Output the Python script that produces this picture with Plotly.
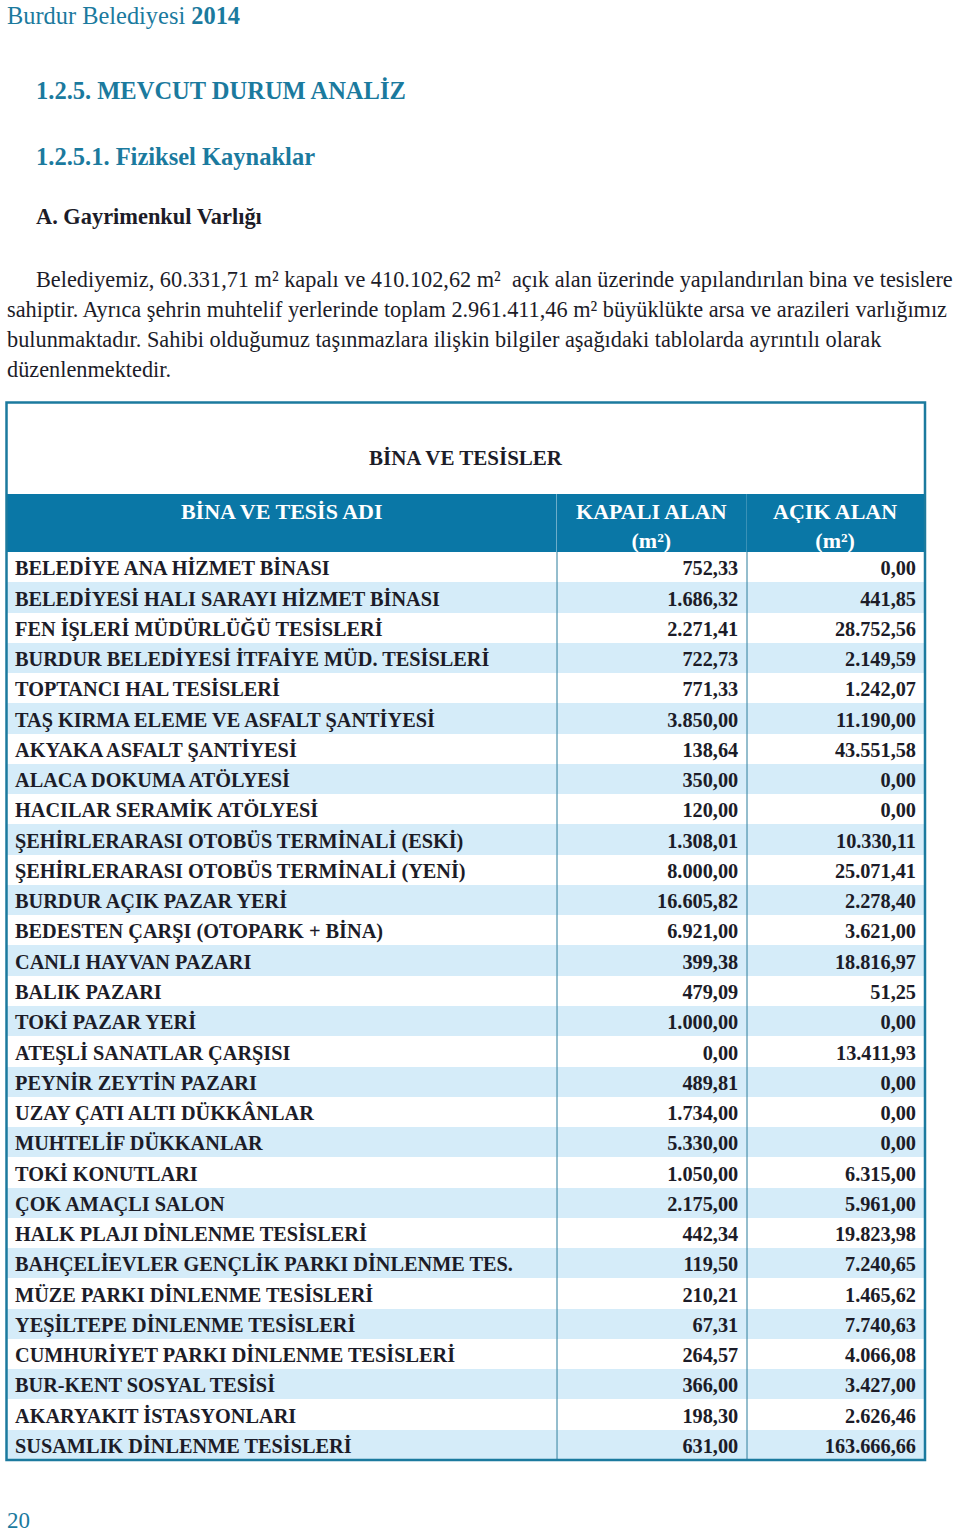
import plotly.graph_objects as go

W, H = 960, 1536

facility_names = [
    "BELEDİYE ANA HİZMET BİNASI",
    "BELEDİYESİ HALI SARAYI HİZMET BİNASI",
    "FEN İŞLERİ MÜDÜRLÜĞÜ TESİSLERİ",
    "BURDUR BELEDİYESİ İTFAİYE MÜD. TESİSLERİ",
    "TOPTANCI HAL TESİSLERİ",
    "TAŞ KIRMA ELEME VE ASFALT ŞANTİYESİ",
    "AKYAKA ASFALT ŞANTİYESİ",
    "ALACA DOKUMA ATÖLYESİ",
    "HACILAR SERAMİK ATÖLYESİ",
    "ŞEHİRLERARASI OTOBÜS TERMİNALİ (ESKİ)",
    "ŞEHİRLERARASI OTOBÜS TERMİNALİ (YENİ)",
    "BURDUR AÇIK PAZAR YERİ",
    "BEDESTEN ÇARŞI (OTOPARK + BİNA)",
    "CANLI HAYVAN PAZARI",
    "BALIK PAZARI",
    "TOKİ PAZAR YERİ",
    "ATEŞLİ SANATLAR ÇARŞISI",
    "PEYNİR ZEYTİN PAZARI",
    "UZAY ÇATI ALTI DÜKKÂNLAR",
    "MUHTELİF DÜKKANLAR",
    "TOKİ KONUTLARI",
    "ÇOK AMAÇLI SALON",
    "HALK PLAJI DİNLENME TESİSLERİ",
    "BAHÇELİEVLER GENÇLİK PARKI DİNLENME TES.",
    "MÜZE PARKI DİNLENME TESİSLERİ",
    "YEŞİLTEPE DİNLENME TESİSLERİ",
    "CUMHURİYET PARKI DİNLENME TESİSLERİ",
    "BUR-KENT SOSYAL TESİSİ",
    "AKARYAKIT İSTASYONLARI",
    "SUSAMLIK DİNLENME TESİSLERİ",
]

closed_area = [
    752.33, 1686.32, 2271.41, 722.73, 771.33, 3850.00, 138.64, 350.00, 120.00,
    1308.01, 8000.00, 16605.82, 6921.00, 399.38, 479.09, 1000.00, 0.00, 489.81,
    1734.00, 5330.00, 1050.00, 2175.00, 442.34, 119.50, 210.21, 67.31, 264.57,
    366.00, 198.30, 631.00,
]

open_area = [
    0.00, 441.85, 28752.56, 2149.59, 1242.07, 11190.00, 43551.58, 0.00, 0.00,
    10330.11, 25071.41, 2278.40, 3621.00, 18816.97, 51.25, 0.00, 13411.93, 0.00,
    0.00, 0.00, 6315.00, 5961.00, 19823.98, 7240.65, 1465.62, 7740.63, 4066.08,
    3427.00, 2626.46, 163666.66,
]

header_labels = [["BİNA VE TESİS ADI", ""], ["KAPALI ALAN", "(m²)"], ["AÇIK ALAN", "(m²)"]]
table_title = "BİNA VE TESİSLER"


def tr_fmt(v):
    s = f"{v:,.2f}"
    return s.replace(",", "X").replace(".", ",").replace("X", ".")


SERIF = "Liberation Serif"
TEAL = "#1b7a9e"
HEAD_BLUE = "#0a77a6"
LIGHT = "#d5ecf9"
TXT = "#1c1c28"


def px(x):
    return x / W


def py(y):
    return 1 - y / H


n = len(facility_names)
row_fill = ["white" if i % 2 == 0 else LIGHT for i in range(n)]

tbl_left, tbl_right = 7, 925
head_top, tbl_bottom = 494, 1460
head_h = 58
cell_h = (tbl_bottom - head_top - head_h) / n

fig = go.Figure()
fig.add_trace(go.Table(
    domain=dict(x=[px(tbl_left), px(tbl_right)], y=[py(tbl_bottom), py(head_top)]),
    columnwidth=[550, 190, 178],
    header=dict(
        values=header_labels,
        fill_color=HEAD_BLUE,
        line=dict(width=0, color=HEAD_BLUE),
        align="center",
        height=head_h / 2,
        font=dict(family=SERIF, size=22, color="white", weight="bold"),
    ),
    cells=dict(
        values=[facility_names, [tr_fmt(v) for v in closed_area], [tr_fmt(v) for v in open_area]],
        fill_color=[row_fill, row_fill, row_fill],
        line=dict(width=0, color="white"),
        align=["left", "right", "right"],
        height=cell_h,
        font=dict(family=SERIF, size=20.3, color=TXT, weight="bold"),
    ),
))

# column dividers in body
for xd in (557, 747):
    fig.add_shape(type="line", xref="paper", yref="paper",
                  x0=px(xd), x1=px(xd), y0=py(head_top + head_h), y1=py(tbl_bottom),
                  line=dict(color="#2a7d9c", width=1))
# outer frame
fig.add_shape(type="rect", xref="paper", yref="paper",
              x0=px(6.5), x1=px(925), y0=py(1460), y1=py(402.5),
              line=dict(color=TEAL, width=2.5))

ann = []


def text(x, y, s, size, color=TXT, bold=False, xanchor="left"):
    ann.append(dict(
        x=px(x), y=py(y), xref="paper", yref="paper", text=s, showarrow=False,
        xanchor=xanchor, yanchor="middle",
        font=dict(family=SERIF, size=size, color=color, weight="bold" if bold else "normal"),
    ))


text(5, 15, "Burdur Belediyesi <b>2014</b>", 24.4, color=TEAL)
text(34, 90, "1.2.5. MEVCUT DURUM ANALİZ", 24.5, color=TEAL, bold=True)
text(34, 156, "1.2.5.1. Fiziksel Kaynaklar", 24.5, color=TEAL, bold=True)
text(34, 217, "A. Gayrimenkul Varlığı", 22.4, color=TXT, bold=True)

para = [
    (34, 279, "Belediyemiz, 60.331,71 m² kapalı ve 410.102,62 m²  açık alan üzerinde yapılandırılan bina ve tesislere"),
    (5, 309, "sahiptir. Ayrıca şehrin muhtelif yerlerinde toplam 2.961.411,46 m² büyüklükte arsa ve arazileri varlığımız"),
    (5, 340, "bulunmaktadır. Sahibi olduğumuz taşınmazlara ilişkin bilgiler aşağıdaki tablolarda ayrıntılı olarak"),
    (5, 370, "düzenlenmektedir."),
]
for x, y, s in para:
    text(x, y, s, 22.3, color=TXT)

text(466, 458, table_title, 21, color=TXT, bold=True, xanchor="center")
text(5, 1520, "20", 23, color=TEAL)

fig.update_layout(
    width=W, height=H,
    margin=dict(l=0, r=0, t=0, b=0),
    paper_bgcolor="white", plot_bgcolor="white",
    annotations=ann,
    showlegend=False,
)

fig.write_html("out.html", config={"displayModeBar": False},
               post_script="document.body.style.margin='0';")
